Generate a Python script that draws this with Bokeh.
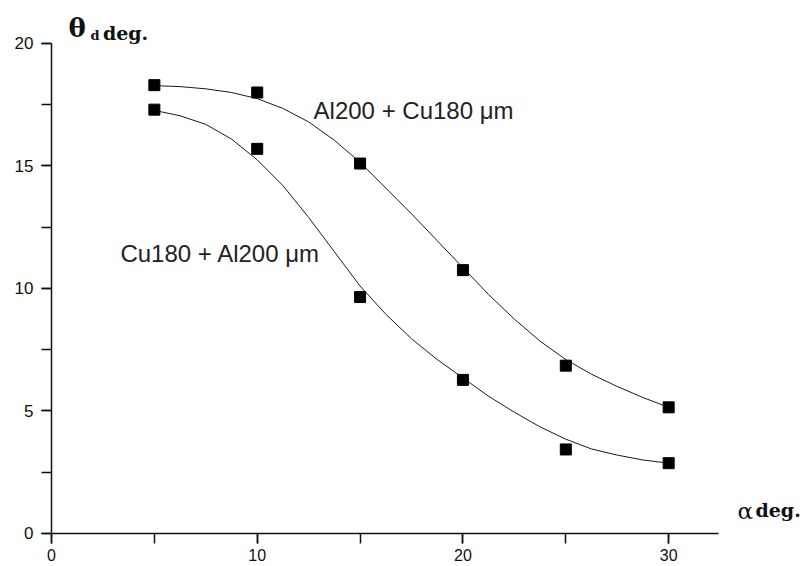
from bokeh.plotting import figure
from bokeh.models import Range1d, SingleIntervalTicker, Label
from bokeh.embed import file_html
from bokeh.resources import INLINE

# measured points
alpha = [5, 10, 15, 20, 25, 30]
theta_al_cu = [18.3, 18.0, 15.1, 10.75, 6.85, 5.15]   # Al200 + Cu180 um
theta_cu_al = [17.3, 15.7, 9.65, 6.27, 3.43, 2.87]    # Cu180 + Al200 um

# fitted curves
curve_x = [5, 6.25, 7.5, 8.75, 10, 11.25, 12.5, 13.75, 15, 16.25, 17.5,
           18.75, 20, 21.25, 22.5, 23.75, 25, 26.25, 27.5, 28.75, 30]
curve_al_cu = [18.28, 18.24, 18.15, 18.0, 17.75, 17.35, 16.8, 16.05, 15.15,
               14.1, 13.05, 11.95, 10.85, 9.75, 8.75, 7.85, 7.1, 6.5, 6.0,
               5.55, 5.15]
curve_cu_al = [17.27, 17.05, 16.7, 16.1, 15.25, 14.2, 12.9, 11.5, 10.1,
               8.95, 7.95, 7.1, 6.35, 5.6, 4.95, 4.35, 3.85, 3.45, 3.2,
               3.0, 2.87]

label_a = "Al200 + Cu180 μm"
label_b = "Cu180 + Al200 μm"

p = figure(width=806, height=566, output_backend="svg", toolbar_location=None,
           x_range=Range1d(-2.479, 36.70), y_range=Range1d(-1.347, 21.755),
           min_border=0)
p.xgrid.visible = False
p.ygrid.visible = False
p.outline_line_color = None
p.background_fill_color = "white"
p.border_fill_color = "white"

p.xaxis.ticker = SingleIntervalTicker(interval=10, num_minor_ticks=2)
p.yaxis.ticker = SingleIntervalTicker(interval=5, num_minor_ticks=2)
p.xaxis.fixed_location = 0
p.yaxis.fixed_location = 0
p.xaxis.bounds = (0, 32.43)
p.yaxis.bounds = (0, 20)

for ax in (p.xaxis[0], p.yaxis[0]):
    ax.axis_line_color = "#111111"
    ax.axis_line_width = 1.5
    ax.major_tick_line_color = "#111111"
    ax.minor_tick_line_color = "#111111"
    ax.major_tick_line_width = 1.5
    ax.minor_tick_line_width = 1.5
    ax.major_tick_in = 0
    ax.minor_tick_in = 0
    ax.major_tick_out = 10
    ax.minor_tick_out = 10
    ax.major_label_text_font = "Liberation Sans"
    ax.major_label_text_color = "#111111"
    ax.major_label_text_font_size = "17px"

p.yaxis.major_label_standoff = 8
p.xaxis.major_label_standoff = 6
p.xaxis.major_label_text_font_size = "16px"

p.line(curve_x, curve_al_cu, line_color="#1a1a1a", line_width=1)
p.line(curve_x, curve_cu_al, line_color="#1a1a1a", line_width=1)
p.scatter(alpha, theta_al_cu, marker="square", size=11, color="black")
p.scatter(alpha, theta_cu_al, marker="square", size=11, color="black")

p.add_layout(Label(x=12.74, y=17.27, text=label_a, text_font="Liberation Sans",
                   text_font_size="24px", text_color="#222222",
                   text_baseline="middle"))
p.add_layout(Label(x=3.35, y=11.41, text=label_b, text_font="Liberation Sans",
                   text_font_size="24px", text_color="#222222",
                   text_baseline="middle"))

# axis titles
p.add_layout(Label(x=0.83, y=20.65, text="θ", text_font="DejaVu Serif",
                   text_font_style="bold", text_font_size="26px",
                   text_color="#111111", text_baseline="middle"))
p.add_layout(Label(x=1.9, y=20.33, text="d", text_font="DejaVu Serif",
                   text_font_style="bold", text_font_size="13px",
                   text_color="#111111", text_baseline="middle"))
p.add_layout(Label(x=2.5, y=20.42, text="deg.", text_font="DejaVu Serif",
                   text_font_style="bold", text_font_size="19px",
                   text_color="#111111", text_baseline="middle"))
p.add_layout(Label(x=33.35, y=0.9, text="α", text_font="DejaVu Serif",
                   text_font_size="23px", text_color="#111111",
                   text_baseline="middle"))
p.add_layout(Label(x=34.22, y=0.94, text="deg.", text_font="DejaVu Serif",
                   text_font_style="bold", text_font_size="19px",
                   text_color="#111111", text_baseline="middle"))

open("out.html", "w").write(file_html(p, INLINE))
